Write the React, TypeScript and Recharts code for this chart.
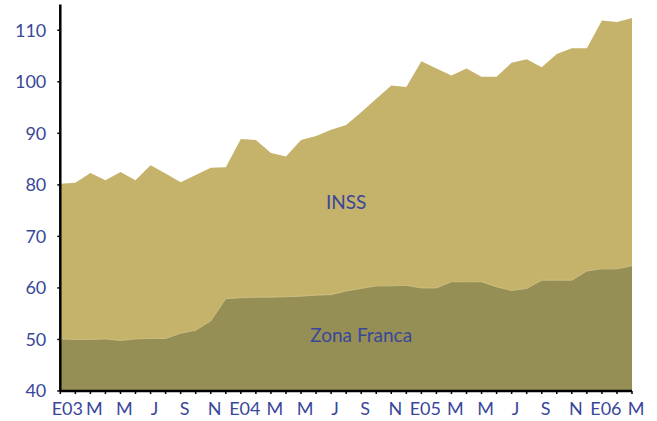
import React from 'react';
import { AreaChart, Area, XAxis, YAxis, ReferenceDot } from 'recharts';

const periods = [
  '2003-01','2003-02','2003-03','2003-04','2003-05','2003-06','2003-07','2003-08','2003-09','2003-10','2003-11','2003-12',
  '2004-01','2004-02','2004-03','2004-04','2004-05','2004-06','2004-07','2004-08','2004-09','2004-10','2004-11','2004-12',
  '2005-01','2005-02','2005-03','2005-04','2005-05','2005-06','2005-07','2005-08','2005-09','2005-10','2005-11','2005-12',
  '2006-01','2006-02','2006-03',
];

const tickLabels = [
  'E03','','M','','M','','J','','S','','N','',
  'E04','','M','','M','','J','','S','','N','',
  'E05','','M','','M','','J','','S','','N','',
  'E06','','M',
];

const inss = [
  80.2, 80.4, 82.3, 80.9, 82.5, 80.9, 83.8, 82.2, 80.5, 81.9, 83.3, 83.4,
  88.9, 88.7, 86.2, 85.5, 88.7, 89.5, 90.7, 91.6, 94.1, 96.7, 99.3, 99.0,
  104.0, 102.6, 101.2, 102.6, 101.0, 101.0, 103.7, 104.4, 102.8, 105.4, 106.5, 106.5,
  111.9, 111.6, 112.4,
];

const zonaFranca = [
  50.1, 50.0, 50.0, 50.1, 49.8, 50.1, 50.2, 50.2, 51.2, 51.8, 53.6, 57.9,
  58.1, 58.2, 58.2, 58.3, 58.4, 58.6, 58.7, 59.4, 59.9, 60.4, 60.4, 60.5,
  60.0, 60.0, 61.2, 61.2, 61.2, 60.2, 59.5, 59.9, 61.5, 61.5, 61.5, 63.3,
  63.7, 63.7, 64.3,
];

const yTicks = [40, 50, 60, 70, 80, 90, 100, 110];

const data = periods.map((p, i) => ({ period: p, inss: inss[i], zf: zonaFranca[i] }));

const BLUE = '#39479A';
const FONT = 'Lato, "DejaVu Sans", sans-serif';

const XTick = (props: any) => {
  const { x, y, index } = props;
  const label = tickLabels[index];
  if (!label) return null;
  return (
    <text x={x + (index === 0 ? 7 : 4)} y={y + 19} textAnchor="middle" fill={BLUE} fontSize={18} fontFamily={FONT}>
      {label}
    </text>
  );
};

export default function App() {
  return (
    <div style={{ position: 'absolute', left: 0, top: 0, width: 657, height: 421, background: '#fff' }}>
      <AreaChart width={657} height={421} data={data} margin={{ top: 4.5, right: 25, left: 0, bottom: 0 }}>
        <XAxis
          dataKey="period"
          interval={0}
          height={30}
          tick={<XTick />}
          tickLine={{ stroke: '#000', strokeWidth: 1.5 }}
          tickSize={3}
          axisLine={{ stroke: '#000', strokeWidth: 2.5 }}
        />
        <YAxis
          domain={[40, 115]}
          ticks={yTicks}
          width={60.3}
          tickSize={3}
          tickLine={{ stroke: '#000', strokeWidth: 1.5 }}
          axisLine={{ stroke: '#000', strokeWidth: 2.5 }}
          tick={{ fill: BLUE, fontSize: 18, fontFamily: FONT, dx: -9 }}
          allowDataOverflow
        />
        <Area type="linear" dataKey="inss" stroke="none" fill="#C5B26B" fillOpacity={1} isAnimationActive={false} />
        <Area type="linear" dataKey="zf" stroke="#D3C486" strokeWidth={0.8} fill="#958F55" fillOpacity={1} isAnimationActive={false} />
        <ReferenceDot
          x="2004-08"
          y={76.7}
          r={0}
          fill="none"
          stroke="none"
          label={{ value: 'INSS', position: 'center', fill: BLUE, fontSize: 19, fontFamily: FONT }}
        />
        <ReferenceDot
          x="2004-09"
          y={50.9}
          r={0}
          fill="none"
          stroke="none"
          label={{ value: 'Zona Franca', position: 'center', fill: BLUE, fontSize: 19, fontFamily: FONT }}
        />
      </AreaChart>
    </div>
  );
}
